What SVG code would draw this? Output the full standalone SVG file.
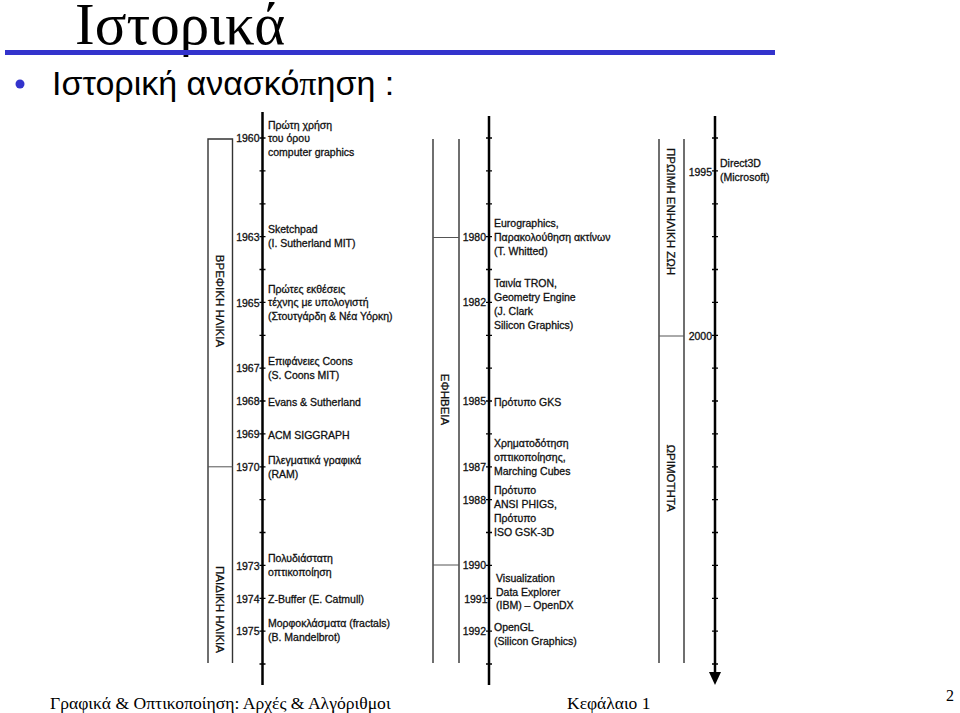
<svg xmlns="http://www.w3.org/2000/svg" width="960" height="713" viewBox="0 0 960 713">
<style>
.t{font-family:"Liberation Sans",Arial,sans-serif;font-size:10.5px;fill:#111;stroke:#111;stroke-width:0.3}
.y{font-family:"Liberation Sans",Arial,sans-serif;font-size:10.5px;fill:#111;stroke:#111;stroke-width:0.3;text-anchor:end}
.p{font-family:"Liberation Sans",Arial,sans-serif;font-size:11.5px;fill:#111;stroke:#111;stroke-width:0.3;text-anchor:middle}
.ax{stroke:#000;stroke-width:2.5;fill:none}
.tk{stroke:#000;stroke-width:1.3}
.br{stroke:#333;stroke-width:1.4;fill:none}
.dv{stroke:#555;stroke-width:1;fill:none}
.sf{font-family:"Liberation Serif","Times New Roman",serif;fill:#000}
</style>
<rect width="960" height="713" fill="#fff"/>
<g id="header">
<text class="sf" x="75" y="44" font-size="59">Ιστορικά</text>
<rect x="5" y="50" width="770" height="5" fill="#3333cc"/>
<circle cx="20" cy="84" r="4.5" fill="#3333cc"/>
<text x="52" y="95" font-family="Liberation Sans,Arial,sans-serif" font-size="34" fill="#000">Ιστορική ανασκό<tspan font-family="Liberation Serif,serif">π</tspan>ηση :</text>
</g>
<g id="connectors">
<path class="ax" d="M262.5,112V685M489,116V685M715,116V675"/>
<polygon points="709,672 721,672 715,685" fill="#000"/>
<g class="tk">
<path d="M259.5,138h6M259.5,170.9h6M259.5,203.8h6M259.5,236.6h6M259.5,269.5h6M259.5,302.4h6M259.5,335.3h6M259.5,368.1h6M259.5,401h6M259.5,433.9h6M259.5,466.8h6M259.5,499.6h6M259.5,532.5h6M259.5,565.4h6M259.5,598.3h6M259.5,631.1h6M259.5,664h6"/>
<path d="M486,138h6M486,170.9h6M486,203.8h6M486,236.6h6M486,269.5h6M486,302.4h6M486,335.3h6M486,368.1h6M486,401h6M486,433.9h6M486,466.8h6M486,499.6h6M486,532.5h6M486,565.4h6M486,598.3h6M486,631.1h6M486,664h6"/>
<path d="M712,138h6M712,170.9h6M712,203.8h6M712,236.6h6M712,269.5h6M712,302.4h6M712,335.3h6M712,368.1h6M712,401h6M712,433.9h6M712,466.8h6M712,499.6h6M712,532.5h6M712,565.4h6M712,598.3h6M712,631.1h6M712,664h6"/>
</g>
</g>
<g id="periods">
<path class="br" d="M208,663V139H232.5V663M433,139V663M459,139V663M659,139V663M684,139V663"/>
<path class="dv" d="M208,466.8H232.5M433,237.5H459M433,565H459M659,336H684"/>
<text class="p" transform="translate(216,301) rotate(90)">ΒΡΕΦΙΚΗ ΗΛΙΚΙΑ</text>
<text class="p" transform="translate(216,609.5) rotate(90)">ΠΑΙΔΙΚΗ ΗΛΙΚΙΑ</text>
<text class="p" transform="translate(441,399.5) rotate(90)">ΕΦΗΒΕΙΑ</text>
<text class="p" transform="translate(667,211.5) rotate(90)">ΠΡΩΙΜΗ ΕΝΗΛΙΚΗ ΖΩΗ</text>
<text class="p" transform="translate(667,478) rotate(90)">ΩΡΙΜΟΤΗΤΑ</text>
</g>
<g id="years">
<text class="y" x="259.5" y="142">1960</text>
<text class="y" x="259.5" y="241">1963</text>
<text class="y" x="259.5" y="306.5">1965</text>
<text class="y" x="259.5" y="372">1967</text>
<text class="y" x="259.5" y="405">1968</text>
<text class="y" x="259.5" y="438">1969</text>
<text class="y" x="259.5" y="470.5">1970</text>
<text class="y" x="259.5" y="569.5">1973</text>
<text class="y" x="259.5" y="602.5">1974</text>
<text class="y" x="259.5" y="635">1975</text>
<text class="y" x="486" y="241">1980</text>
<text class="y" x="486" y="306">1982</text>
<text class="y" x="486" y="405">1985</text>
<text class="y" x="486" y="471">1987</text>
<text class="y" x="486" y="504">1988</text>
<text class="y" x="486" y="569">1990</text>
<text class="y" x="487.5" y="603">1991</text>
<text class="y" x="486" y="635">1992</text>
<text class="y" x="712" y="176">1995</text>
<text class="y" x="712" y="340">2000</text>
</g>
<g id="events">
<text class="t" x="268" y="129">Πρώτη χρήση</text>
<text class="t" x="268" y="142">του όρου</text>
<text class="t" x="268" y="155.5">computer graphics</text>
<text class="t" x="268" y="233">Sketchpad</text>
<text class="t" x="268" y="247">(I. Sutherland MIT)</text>
<text class="t" x="268" y="293">Πρώτες εκθέσεις</text>
<text class="t" x="268" y="306">τέχνης με υπολογιστή</text>
<text class="t" x="268" y="320">(Στουτγάρδη &amp; Νέα Υόρκη)</text>
<text class="t" x="268" y="365">Επιφάνειες Coons</text>
<text class="t" x="268" y="379">(S. Coons MIT)</text>
<text class="t" x="268" y="406">Evans &amp; Sutherland</text>
<text class="t" x="268" y="439">ACM SIGGRAPH</text>
<text class="t" x="268" y="464">Πλεγματικά γραφικά</text>
<text class="t" x="268" y="478">(RAM)</text>
<text class="t" x="268" y="562">Πολυδιάστατη</text>
<text class="t" x="268" y="576">οπτικοποίηση</text>
<text class="t" x="268" y="603">Z-Buffer (E. Catmull)</text>
<text class="t" x="268" y="627">Μορφοκλάσματα (fractals)</text>
<text class="t" x="268" y="641">(B. Mandelbrot)</text>
<text class="t" x="494" y="227">Eurographics,</text>
<text class="t" x="494" y="241">Παρακολούθηση ακτίνων</text>
<text class="t" x="494" y="255">(T. Whitted)</text>
<text class="t" x="494" y="287">Ταινία TRON,</text>
<text class="t" x="494" y="301">Geometry Engine</text>
<text class="t" x="494" y="315">(J. Clark</text>
<text class="t" x="494" y="329">Silicon Graphics)</text>
<text class="t" x="494" y="406">Πρότυπο GKS</text>
<text class="t" x="494" y="447">Χρηματοδότηση</text>
<text class="t" x="494" y="461">οπτικοποίησης,</text>
<text class="t" x="494" y="475">Marching Cubes</text>
<text class="t" x="494" y="494">Πρότυπο</text>
<text class="t" x="494" y="508">ANSI PHIGS,</text>
<text class="t" x="494" y="522">Πρότυπο</text>
<text class="t" x="494" y="536">ISO GSK-3D</text>
<text class="t" x="496" y="582">Visualization</text>
<text class="t" x="496" y="596">Data Explorer</text>
<text class="t" x="496" y="609">(IBM) – OpenDX</text>
<text class="t" x="494" y="631">OpenGL</text>
<text class="t" x="494" y="645">(Silicon Graphics)</text>
<text class="t" x="720" y="167">Direct3D</text>
<text class="t" x="720" y="181">(Microsoft)</text>
</g>
<g id="footer">
<text class="sf" x="50" y="709" font-size="17.6">Γραφικά &amp; Οπτικοποίηση: Αρχές &amp; Αλγόριθμοι</text>
<text class="sf" x="567" y="709" font-size="17.5">Κεφάλαιο 1</text>
<text class="sf" x="946" y="701" font-size="16">2</text>
</g>
</svg>
